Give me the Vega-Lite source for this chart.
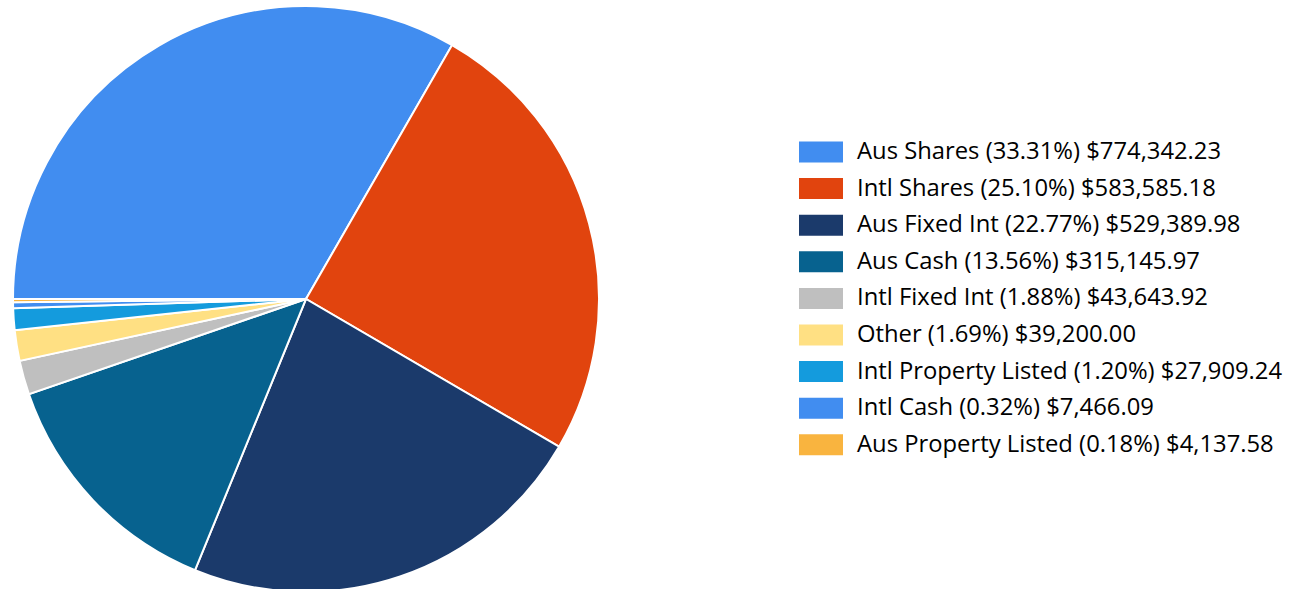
{
  "$schema": "https://vega.github.io/schema/vega-lite/v6.json",
  "width": 612,
  "height": 598,
  "padding": 0,
  "background": "white",
  "config": {"view": {"stroke": null}},
  "data": {"values": [
    {"order": 1, "label": "Aus Shares (33.31%) $774,342.23", "value": 774342.23},
    {"order": 2, "label": "Intl Shares (25.10%) $583,585.18", "value": 583585.18},
    {"order": 3, "label": "Aus Fixed Int (22.77%) $529,389.98", "value": 529389.98},
    {"order": 4, "label": "Aus Cash (13.56%) $315,145.97", "value": 315145.97},
    {"order": 5, "label": "Intl Fixed Int (1.88%) $43,643.92", "value": 43643.92},
    {"order": 6, "label": "Other (1.69%) $39,200.00", "value": 39200.00},
    {"order": 7, "label": "Intl Property Listed (1.20%) $27,909.24", "value": 27909.24},
    {"order": 8, "label": "Intl Cash (0.32%) $7,466.09", "value": 7466.09},
    {"order": 9, "label": "Aus Property Listed (0.18%) $4,137.58", "value": 4137.58}
  ]},
  "mark": {"type": "arc", "outerRadius": 293, "stroke": "white", "strokeWidth": 2},
  "encoding": {
    "theta": {"field": "value", "type": "quantitative", "stack": true, "scale": {"range": [4.712389, 10.995574]}},
    "order": {"field": "order", "type": "quantitative", "sort": "ascending"},
    "color": {
      "field": "label", "type": "nominal", "sort": null,
      "scale": {
        "domain": ["Aus Shares (33.31%) $774,342.23", "Intl Shares (25.10%) $583,585.18", "Aus Fixed Int (22.77%) $529,389.98", "Aus Cash (13.56%) $315,145.97", "Intl Fixed Int (1.88%) $43,643.92", "Other (1.69%) $39,200.00", "Intl Property Listed (1.20%) $27,909.24", "Intl Cash (0.32%) $7,466.09", "Aus Property Listed (0.18%) $4,137.58"],
        "range": ["#418DF0", "#E1440E", "#1B3A6B", "#07628F", "#BFBFBF", "#FFE083", "#149BDD", "#418DF0", "#F9B43F"]
      },
      "legend": {
        "title": null,
        "orient": "none",
        "legendX": 799,
        "legendY": 130,
        "symbolType": "M-1,-0.477H1V0.477H-1Z",
        "symbolSize": 1936,
        "symbolStrokeWidth": 0,
        "symbolOpacity": 1,
        "labelFont": "Open Sans",
        "labelFontSize": 23.8,
        "labelColor": "#000000",
        "labelOffset": 14,
        "labelLimit": 600,
        "rowPadding": 2.6
      }
    }
  }
}
